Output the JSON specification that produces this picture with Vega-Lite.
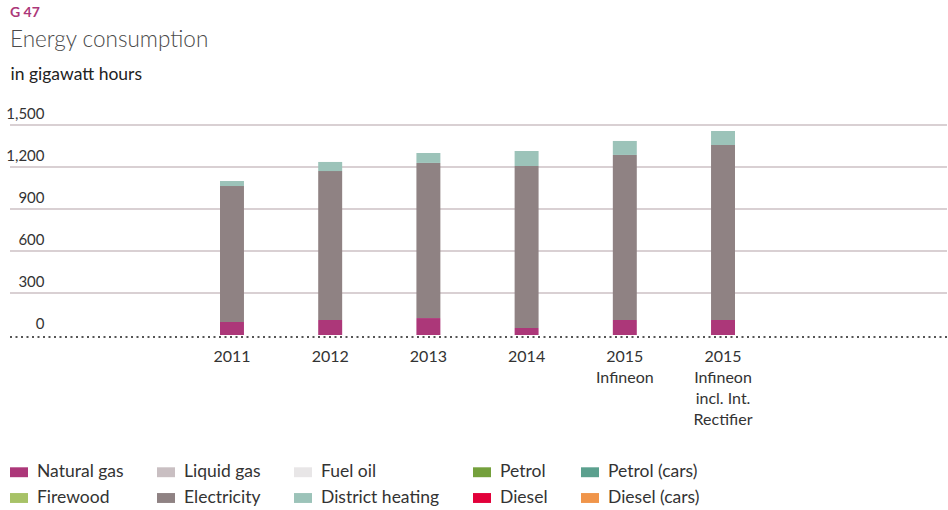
{
  "$schema": "https://vega.github.io/schema/vega-lite/v6.json",
  "width": 937,
  "height": 210,
  "autosize": {"type": "none"},
  "padding": {"left": 10, "top": 125, "right": 1, "bottom": 175},
  "background": "white",
  "title": {
    "text": "G 47",
    "subtitle": "Energy consumption",
    "anchor": "start",
    "frame": "group",
    "offset": 14,
    "font": "Lato",
    "fontSize": 14,
    "fontWeight": "bold",
    "color": "#ac3779",
    "subtitleFont": "Lato",
    "subtitleFontSize": 22.5,
    "subtitleFontWeight": 300,
    "subtitleColor": "#4a4a4a",
    "subtitlePadding": 9
  },
  "layer": [
    {
      "data": {"values": [{"g": 300}, {"g": 600}, {"g": 900}, {"g": 1200}, {"g": 1500}]},
      "mark": {"type": "rule", "color": "#d9d0d3", "strokeWidth": 1.8},
      "encoding": {
        "y": {
          "field": "g",
          "type": "quantitative",
          "scale": {"domain": [0, 1500], "nice": false},
          "axis": {
            "title": "in gigawatt hours",
            "titleAngle": 0,
            "titleAlign": "left",
            "titleBaseline": "alphabetic",
            "titleX": 0,
            "titleY": -46,
            "titleFont": "Lato",
            "titleFontSize": 17.5,
            "titleFontWeight": "normal",
            "titleColor": "#222222",
            "values": [0, 300, 600, 900, 1200, 1500],
            "format": ",.0f",
            "labelFont": "Lato",
            "labelFontSize": 15,
            "labelColor": "#333333",
            "labelAlign": "right",
            "labelBaseline": "alphabetic",
            "labelPadding": -34,
            "labelOffset": -7,
            "ticks": false,
            "tickSize": 0,
            "domain": false,
            "grid": false
          }
        }
      }
    },
    {
      "data": {"values": [{"g": 0}]},
      "mark": {"type": "rule", "color": "#555555", "strokeWidth": 2, "strokeDash": [2, 3.5], "yOffset": 2},
      "encoding": {
        "y": {"field": "g", "type": "quantitative", "scale": {"domain": [0, 1500], "nice": false}}
      }
    },
    {
      "data": {
        "values": [
          {"period": "2011", "source": "Natural gas", "gwh": 93},
          {"period": "2011", "source": "Electricity", "gwh": 971},
          {"period": "2011", "source": "District heating", "gwh": 36},
          {"period": "2012", "source": "Natural gas", "gwh": 107},
          {"period": "2012", "source": "Electricity", "gwh": 1064},
          {"period": "2012", "source": "District heating", "gwh": 65},
          {"period": "2013", "source": "Natural gas", "gwh": 121},
          {"period": "2013", "source": "Electricity", "gwh": 1108},
          {"period": "2013", "source": "District heating", "gwh": 71},
          {"period": "2014", "source": "Natural gas", "gwh": 50},
          {"period": "2014", "source": "Electricity", "gwh": 1157},
          {"period": "2014", "source": "District heating", "gwh": 107},
          {"period": "2015|Infineon", "source": "Natural gas", "gwh": 107},
          {"period": "2015|Infineon", "source": "Electricity", "gwh": 1179},
          {"period": "2015|Infineon", "source": "District heating", "gwh": 100},
          {"period": "2015|Infineon|incl. Int.|Rectifier", "source": "Natural gas", "gwh": 107},
          {"period": "2015|Infineon|incl. Int.|Rectifier", "source": "Electricity", "gwh": 1250},
          {"period": "2015|Infineon|incl. Int.|Rectifier", "source": "District heating", "gwh": 100}
        ]
      },
      "mark": {"type": "bar"},
      "encoding": {
        "x": {
          "field": "period",
          "type": "nominal",
          "sort": null,
          "scale": {"paddingInner": 0.756, "paddingOuter": 0, "range": [210, 725]},
          "axis": {
            "title": null,
            "labelAngle": 0,
            "labelExpr": "split(datum.label, '|')",
            "labelFont": "Lato",
            "labelFontSize": 16,
            "labelColor": "#333333",
            "labelLineHeight": 21,
            "labelBaseline": "top",
            "labelPadding": 13,
            "ticks": false,
            "domain": false,
            "grid": false
          }
        },
        "y": {
          "field": "gwh",
          "type": "quantitative",
          "aggregate": "sum",
          "stack": "zero",
          "scale": {"domain": [0, 1500], "nice": false}
        },
        "color": {
          "field": "source",
          "type": "nominal",
          "sort": ["Natural gas", "Liquid gas", "Fuel oil", "Petrol", "Petrol (cars)", "Firewood", "Electricity", "District heating", "Diesel", "Diesel (cars)"],
          "scale": {
            "domain": ["Natural gas", "Liquid gas", "Fuel oil", "Petrol", "Petrol (cars)", "Firewood", "Electricity", "District heating", "Diesel", "Diesel (cars)"],
            "range": ["#ac3779", "#c9bfc2", "#e8e6e7", "#74a03c", "#5ba08e", "#a7c267", "#8f8283", "#9cc3b9", "#e2003a", "#f0954a"]
          },
          "legend": {
            "title": null,
            "orient": "none",
            "legendX": 0,
            "legendY": 338,
            "direction": "horizontal",
            "columns": 5,
            "gridAlign": "each",
            "columnPadding": 33,
            "rowPadding": 8,
            "padding": 0,
            "symbolType": "M-1,-0.55L1,-0.55L1,0.55L-1,0.55Z",
            "symbolSize": 324,
            "symbolStrokeWidth": 0,
            "symbolOpacity": 1,
            "labelFont": "Lato",
            "labelFontSize": 17.5,
            "labelColor": "#333333",
            "labelOffset": 9,
            "labelLimit": 300
          }
        }
      }
    }
  ],
  "config": {
    "view": {"stroke": null}
  }
}
